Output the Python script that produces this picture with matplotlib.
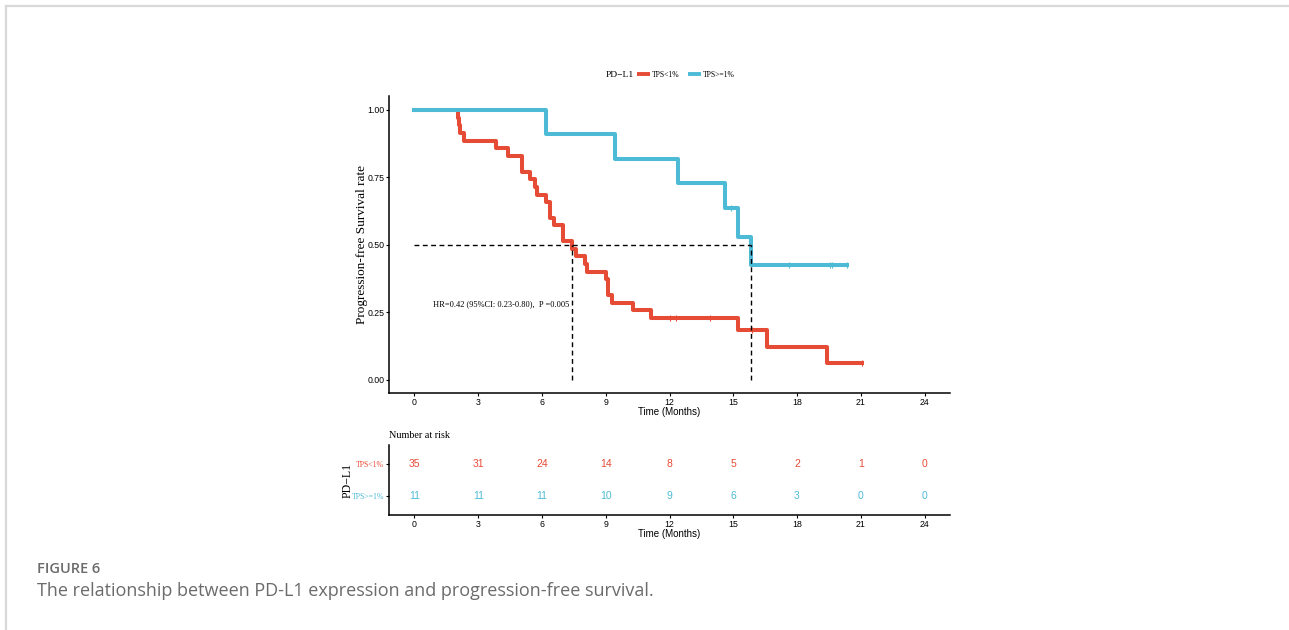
import numpy as np
import matplotlib
matplotlib.use('Agg')
import matplotlib.pyplot as plt
from matplotlib.lines import Line2D

# follow-up times (months) and event flags (1 = progression, 0 = censored)
low_time = [2.04, 2.10, 2.15, 2.35, 3.85, 4.39, 5.06, 5.06, 5.42, 5.66, 5.77, 6.21,
            6.37, 6.37, 6.56, 6.97, 6.97, 7.39, 7.58, 8.02, 8.10, 9.0, 9.12, 9.12,
            9.31, 10.3, 11.12, 12.0, 12.3, 13.9, 15.2, 15.9, 16.6, 19.42, 21.05]
low_event = [1] * 27 + [0, 0, 0, 1, 0, 1, 1, 0]
high_time = [6.2, 9.43, 12.42, 14.62, 14.9, 15.2, 15.83, 17.64, 19.53, 19.64, 20.35]
high_event = [1, 1, 1, 1, 0, 1, 1, 0, 0, 0, 0]

risk_times = [0, 3, 6, 9, 12, 15, 18, 21, 24]
risk_low = [35, 31, 24, 14, 8, 5, 2, 1, 0]
risk_high = [11, 11, 11, 10, 9, 6, 3, 0, 0]

groups = ['TPS<1%', 'TPS>=1%']
colors = ['#E64B35', '#4DBBD5']
medians = [7.39, 15.83]

serif = ['Liberation Serif', 'DejaVu Serif']
narrow = ['Liberation Sans Narrow', 'Liberation Sans', 'DejaVu Sans']


def km(times, events):
    t = np.array(times, float)
    e = np.array(events, int)
    order = np.argsort(t, kind='stable')
    t, e = t[order], e[order]
    xs, ys = [0.0], [1.0]
    s = 1.0
    cens_x, cens_y = [], []
    for ut in np.unique(t):
        at_risk = np.sum(t >= ut)
        d = np.sum((t == ut) & (e == 1))
        c = np.sum((t == ut) & (e == 0))
        if d > 0:
            s = s * (1 - d / at_risk)
            xs.append(ut)
            ys.append(s)
        if c > 0:
            cens_x.append(ut)
            cens_y.append(s)
    xs.append(t.max())
    ys.append(s)
    return np.array(xs), np.array(ys), cens_x, cens_y


fig = plt.figure(figsize=(12.89, 6.30), dpi=100)

# page frame
fig.add_artist(Line2D([6 / 1289, 1], [1 - 6 / 630] * 2, color='#d8d8d8', lw=1.6))
fig.add_artist(Line2D([6 / 1289] * 2, [0, 1 - 6 / 630], color='#d8d8d8', lw=1.6))

ax = fig.add_axes([389 / 1289, 1 - 393 / 630, 561 / 1289, 296.5 / 630])
data = [(low_time, low_event), (high_time, high_event)]
handles = []
for (tt, ee), col, lab in zip(data, colors, groups):
    xs, ys, cx, cy = km(tt, ee)
    h, = ax.step(xs, ys, where='post', color=col, lw=2.9, label=lab, zorder=3)
    ax.plot(cx, cy, ls='none', marker='|', ms=4, mew=0.8, color=col, zorder=3)
    handles.append(h)

ax.plot([0, max(medians)], [0.5, 0.5], ls=(0, (3.5, 2.5)), color='black', lw=1.0, zorder=4)
for m in medians:
    ax.plot([m, m], [0, 0.5], ls=(0, (3.5, 2.5)), color='black', lw=1.0, zorder=4)

ax.text(4.06, 0.28, 'HR=0.42 (95%CI: 0.23-0.80),  P =0.005', ha='center', va='center',
        fontsize=6, family=serif)

ax.set_xlim(-1.2, 25.2)
ax.set_ylim(-0.05, 1.05)
ax.set_xticks(risk_times)
ax.set_yticks([0, 0.25, 0.5, 0.75, 1.0])
ax.set_yticklabels(['0.00', '0.25', '0.50', '0.75', '1.00'])
for lbl in ax.get_xticklabels() + ax.get_yticklabels():
    lbl.set_family(narrow)
    lbl.set_fontsize(6.3)
ax.tick_params(length=2.2, width=0.8, pad=1.2)
for side in ['top', 'right']:
    ax.spines[side].set_visible(False)
for side in ['left', 'bottom']:
    ax.spines[side].set_linewidth(1.1)
ax.set_xlabel('Time (Months)', fontsize=7, family=narrow, labelpad=0)
ax.set_ylabel('Progression-free Survival rate', fontsize=9.5, family=serif)
ax.yaxis.set_label_coords(-0.038, 0.5)

# legend on top
fig.text(606 / 1289, 1 - 75 / 630, 'PD\u2212L1', fontsize=6.8, family=serif, va='center', ha='left')
leg = fig.legend(handles=handles, labels=groups, loc='center left',
                 bbox_to_anchor=(637 / 1289, 1 - 75 / 630), ncol=2, frameon=False,
                 handlelength=1.7, handletextpad=0.3, columnspacing=1.0,
                 prop={'family': serif, 'size': 5.5}, borderaxespad=0, borderpad=0)
for h in leg.legend_handles:
    h.set_linewidth(2.8)
    h.set_solid_capstyle('butt')

# risk table
rt = fig.add_axes([389 / 1289, 1 - 515 / 630, 561 / 1289, 70 / 630])
for vals, col, row in [(risk_low, colors[0], 2), (risk_high, colors[1], 1)]:
    for x, v in zip(risk_times, vals):
        rt.text(x, row, str(v), color=col, ha='center', va='center', fontsize=7.5, family=narrow)
rt.set_xlim(-1.2, 25.2)
rt.set_ylim(0.41, 2.59)
rt.set_xticks(risk_times)
rt.set_yticks([2, 1])
rt.set_yticklabels(groups, family=serif, fontsize=5.6)
for lbl, col in zip(rt.get_yticklabels(), colors):
    lbl.set_color(col)
for lbl in rt.get_xticklabels():
    lbl.set_family(narrow)
    lbl.set_fontsize(6.3)
rt.tick_params(length=2.2, width=0.8, pad=1.2)
for side in ['top', 'right']:
    rt.spines[side].set_visible(False)
for side in ['left', 'bottom']:
    rt.spines[side].set_linewidth(1.1)
rt.set_xlabel('Time (Months)', fontsize=7, family=narrow, labelpad=0)
rt.set_ylabel('PD\u2212L1', fontsize=8.5, family=serif, labelpad=-1)
rt.set_title('Number at risk', loc='left', fontsize=7.3, family=serif, pad=5)

# caption
fig.text(37 / 1289, 1 - 569 / 630, 'FIGURE 6', fontsize=10.5, family=['Open Sans', 'DejaVu Sans'],
         color='#6b6b6b', va='center', ha='left', weight='semibold')
fig.text(37 / 1289, 1 - 591 / 630, 'The relationship between PD-L1 expression and progression-free survival.',
         fontsize=13, family=['Open Sans', 'DejaVu Sans'], color='#6b6b6b', va='center', ha='left')

fig.savefig('out.png', dpi=100)
